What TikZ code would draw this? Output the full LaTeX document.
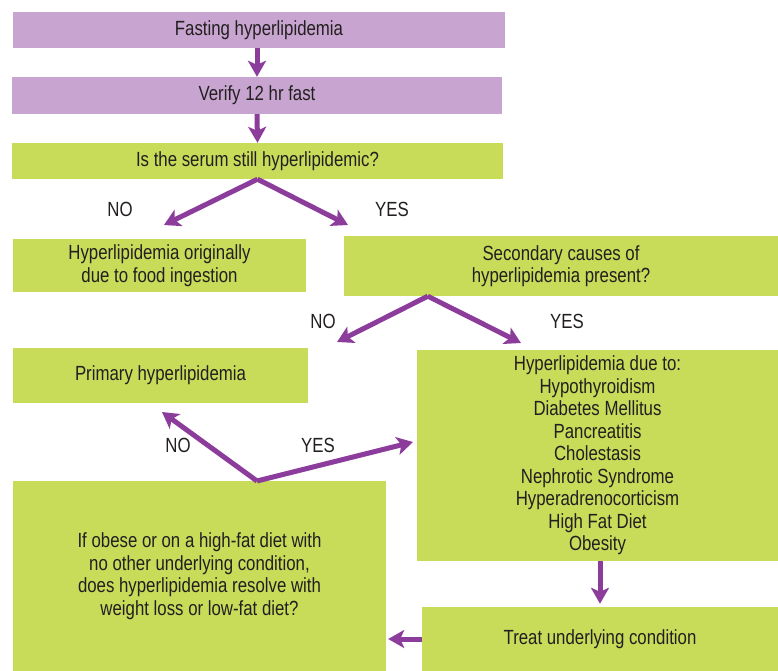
\documentclass[tikz,border=0pt]{standalone}
\usepackage{fontspec}
\setmainfont[FakeStretch=0.82]{Liberation Sans}
\usetikzlibrary{positioning,arrows.meta,calc}
\definecolor{lipPurple}{RGB}{200,165,208}
\definecolor{lipGreen}{RGB}{200,220,90}
\definecolor{lipArrow}{RGB}{140,60,155}
\definecolor{lipText}{RGB}{35,31,32}

\begin{document}
\begin{tikzpicture}[x=1pt,y=-1pt,
      box/.style={fill=lipGreen,inner sep=0pt,align=center,text=lipText,font=\fontsize{20.5}{22.5}\selectfont},
      pbox/.style={box,fill=lipPurple},
      arr/.style={-{Stealth[length=16pt,width=18pt,inset=4pt]},lipArrow,line width=5pt},
      lbl/.style={text=lipText,font=\fontsize{20.5}{22.5}\selectfont}]
    \useasboundingbox (0,0) rectangle (778,671);
    \node[pbox,minimum width=492pt,minimum height=36pt] (fast) at (259,30) {Fasting hyperlipidemia};
    \node[pbox,minimum width=490pt,minimum height=37pt] (verify) at (257,95.5) {Verify 12 hr fast};
    \node[box,minimum width=491pt,minimum height=36pt] (serum) at (257.5,161) {Is the serum still hyperlipidemic?};
    \node[box,minimum width=293pt,minimum height=53pt] (food) at (159.5,265.5) {Hyperlipidemia originally\\due to food ingestion};
    \node[box,minimum width=434pt,minimum height=60pt] (sec) at (561,266) {Secondary causes of\\hyperlipidemia present?};
    \node[box,minimum width=295pt,minimum height=55pt] (prim) at (160.5,375.5) {Primary hyperlipidemia};
    \node[box,minimum width=361pt,minimum height=211pt] (causes) at (597.5,455.5) {Hyperlipidemia due to:\\Hypothyroidism\\Diabetes Mellitus\\Pancreatitis\\Cholestasis\\Nephrotic Syndrome\\Hyperadrenocorticism\\High Fat Diet\\Obesity};
    \node[box,minimum width=373pt,minimum height=190pt] (obese) at (199.5,576) {If obese or on a high-fat diet with\\no other underlying condition,\\does hyperlipidemia resolve with\\weight loss or low-fat diet?};
    \node[box,minimum width=356pt,minimum height=64pt] (treat) at (600,639) {Treat underlying condition};
    % yes / no labels
    \node[lbl] (no1) at (120,209) {NO};
    \node[lbl] (yes1) at (392,209) {YES};
    \node[lbl] (no2) at (323,321) {NO};
    \node[lbl] (yes2) at (567,321) {YES};
    \node[lbl] (no3) at (178,445) {NO};
    \node[lbl] (yes3) at (318,445) {YES};
    % arrow ends
    \coordinate (tipNo1) at (164,225);
    \coordinate (tipYes1) at (348,225);
    \coordinate (secOut) at ($(sec.south west)+(84,0)$);
    \coordinate (tipNo2) at (337,342);
    \coordinate (tipYes2) at (521,343);
    \coordinate (obeseOut) at (257,481);
    \coordinate (tipNo3) at (162,412);
    \coordinate (tipYes3) at (413,442);
    \draw[arr] (fast.south -| verify.north) -- (verify.north);
    \draw[arr] (verify.south) -- (serum.north);
    \draw[arr] (serum.south) -- (tipNo1);
    \draw[arr] (serum.south) -- (tipYes1);
    \draw[arr] (secOut) -- (tipNo2);
    \draw[arr] (secOut) -- (tipYes2);
    \draw[arr] (obeseOut) -- (tipNo3);
    \draw[arr] (obeseOut) -- (tipYes3);
    \draw[arr,shorten >=3pt] (causes.south -| treat.north) -- (treat.north);
    \draw[arr,shorten >=2pt] (treat.west) -- (obese.east |- treat.west);
  \end{tikzpicture}
\end{document}
